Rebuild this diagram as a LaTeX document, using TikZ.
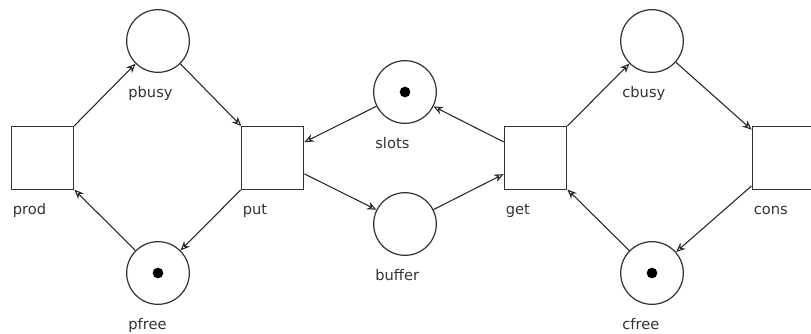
\documentclass[tikz,border=0pt]{standalone}
\usepackage{fontspec}
\setmainfont{DejaVu Sans}
\usetikzlibrary{arrows.meta,positioning}

\begin{document}
\begin{tikzpicture}[x=0.75pt, y=-0.75pt,
  place/.style={circle, draw=black!80, line width=0.9pt, minimum size=47pt, inner sep=0pt},
  trans/.style={rectangle, draw=black!80, line width=0.9pt, minimum size=47pt, inner sep=0pt},
  token/.style={circle, fill=black, minimum size=8pt, inner sep=0pt},
  arc/.style={draw=black!85, line width=0.8pt, -{Stealth[open, length=7pt, width=6pt]}},
  netlabel/.style={font=\fontsize{11}{13}\selectfont\color{black!80}, anchor=base west, inner sep=0pt},
]
% page in px, y grows downward
\useasboundingbox (0,0) rectangle (811,333);

% places
\foreach \n/\x/\y in {pbusy/158/41, pfree/158/273, slots/405/92,
                      buffer/405/224, cbusy/652/41, cfree/652/273}
  \node[place] (\n) at (\x,\y) {};
% transitions
\foreach \n/\x/\y in {prod/42.5/158, put/272.5/158, get/535.5/158, cons/783.5/158}
  \node[trans] (\n) at (\x,\y) {};
% initial marking
\foreach \n in {pfree, slots, cfree}
  \node[token] (\n-tok) at (\n) {};

% names sit below each node, flush with its left side
\foreach \n in {prod, pbusy, put, pfree, slots, buffer, get, cbusy, cons, cfree}
  \node[netlabel] (\n-lbl) at ([shift={(2,25)}]\n.west |- \n.south) {\n};

% arcs
\foreach \a/\b in {prod/pbusy, pbusy/put, put/pfree, pfree/prod,
                   slots/put, put/buffer, buffer/get, get/slots,
                   get/cbusy, cbusy/cons, cons/cfree, cfree/get}
  \draw[arc] (\a) -- (\b);
\end{tikzpicture}
\end{document}
